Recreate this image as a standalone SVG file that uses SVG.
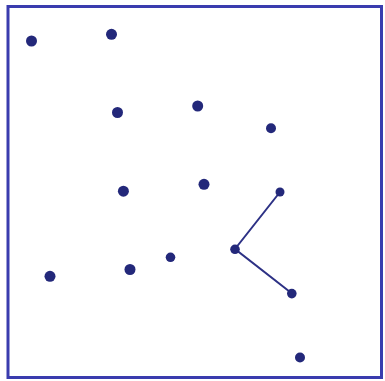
<svg xmlns="http://www.w3.org/2000/svg" width="385" height="381" viewBox="0 0 385 381">
<style>
.frame{fill:none;stroke:#3a3cae;stroke-width:3}
.dot{fill:#23287a}
.edge{stroke:#2d3185;stroke-width:2;fill:none}
</style>
<rect width="385" height="381" fill="#ffffff"/>
<rect class="frame" x="8" y="6.5" width="373.5" height="371"/>
<g id="connectors">
<polyline class="edge" points="280,192 235,249 292,293.5"/>
</g>
<g id="n1"><circle class="dot" cx="31.5" cy="41" r="5.5"/></g>
<g id="n2"><circle class="dot" cx="111.5" cy="34.3" r="5.5"/></g>
<g id="n3"><circle class="dot" cx="117.5" cy="112.5" r="5.5"/></g>
<g id="n4"><circle class="dot" cx="197.7" cy="106" r="5.5"/></g>
<g id="n5"><circle class="dot" cx="271" cy="128.2" r="5"/></g>
<g id="n6"><circle class="dot" cx="123.4" cy="191.2" r="5.5"/></g>
<g id="n7"><circle class="dot" cx="204" cy="184.3" r="5.5"/></g>
<g id="n8"><circle class="dot" cx="280" cy="192" r="4.5"/></g>
<g id="n9"><circle class="dot" cx="50" cy="276.3" r="5.5"/></g>
<g id="n10"><circle class="dot" cx="130" cy="269.5" r="5.5"/></g>
<g id="n11"><circle class="dot" cx="170.5" cy="257.3" r="4.8"/></g>
<g id="n12"><circle class="dot" cx="235" cy="249.3" r="4.8"/></g>
<g id="n13"><circle class="dot" cx="291.8" cy="293.6" r="4.8"/></g>
<g id="n14"><circle class="dot" cx="300" cy="357.5" r="5"/></g>
</svg>
